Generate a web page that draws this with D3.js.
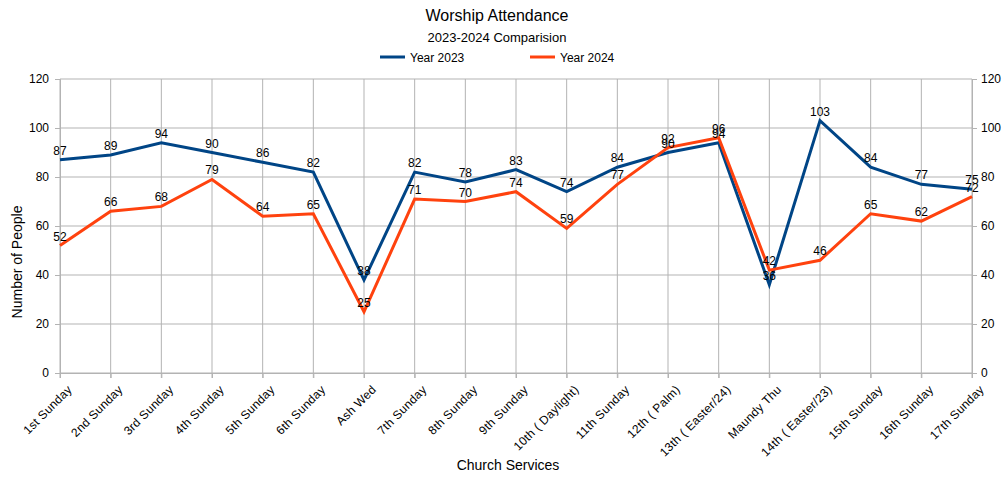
<!DOCTYPE html>
<html>
<head>
<meta charset="utf-8">
<script src="https://cdn.jsdelivr.net/npm/d3@7"></script>
<style>
	body { margin: 0; background: #fff; }
	text { font-family: "Liberation Sans", Arial, sans-serif; }
</style>
</head>
<body>
<svg id="chart"></svg>
<script>
const services = [
	"1st Sunday", "2nd Sunday", "3rd Sunday", "4th Sunday", "5th Sunday", "6th Sunday",
	"Ash Wed", "7th Sunday", "8th Sunday", "9th Sunday", "10th ( Daylight)", "11th Sunday",
	"12th ( Palm)", "13th ( Easter/24)", "Maundy  Thu", "14th ( Easter/23)", "15th Sunday",
	"16th Sunday", "17th Sunday"
];
const year2023 = [87, 89, 94, 90, 86, 82, 38, 82, 78, 83, 74, 84, 90, 94, 36, 103, 84, 77, 75];
const year2024 = [52, 66, 68, 79, 64, 65, 25, 71, 70, 74, 59, 77, 92, 96, 42, 46, 65, 62, 72];
const yTicks = [0, 20, 40, 60, 80, 100, 120];

const seriesList = [
	{ name: "Year 2023", values: year2023, color: "#004586" },
	{ name: "Year 2024", values: year2024, color: "#ff420e" },
];

const width = 1002, height = 479;
const plotLeft = 60, plotRight = 972, plotTop = 79, plotBottom = 373;

const svg = d3.select("#chart").attr("width", width).attr("height", height);

const x = d3.scalePoint().domain(services).range([plotLeft, plotRight]);
const y = d3.scaleLinear().domain([0, 120]).range([plotBottom, plotTop]);

// grid
svg.append("g")
	.selectAll("line")
	.data(yTicks)
	.join("line")
	.attr("x1", plotLeft).attr("x2", plotRight)
	.attr("y1", (d) => y(d)).attr("y2", (d) => y(d))
	.attr("stroke", "#b3b3b3").attr("stroke-width", 1);
svg.append("g")
	.selectAll("line")
	.data(services)
	.join("line")
	.attr("x1", (d) => x(d)).attr("x2", (d) => x(d))
	.attr("y1", plotTop).attr("y2", plotBottom + 5)
	.attr("stroke", "#b3b3b3").attr("stroke-width", 1);

// axes
const yLeft = svg.append("g")
	.attr("transform", `translate(${plotLeft},0)`)
	.call(d3.axisLeft(y).tickValues(yTicks).tickSize(5).tickPadding(6));
const yRight = svg.append("g")
	.attr("transform", `translate(${plotRight},0)`)
	.call(d3.axisRight(y).tickValues(yTicks).tickSize(5).tickPadding(4));
[yLeft, yRight].forEach((g) => {
	g.select(".domain").attr("stroke", "#b3b3b3");
	g.selectAll(".tick line").attr("stroke", "#b3b3b3");
	g.selectAll(".tick text").attr("font-size", "12px").attr("fill", "#000")
		.style("font-family", "Liberation Sans, Arial, sans-serif");
});

const xAxis = svg.append("g")
	.attr("transform", `translate(0,${plotBottom})`)
	.call(d3.axisBottom(x).tickSize(5).tickPadding(4));
xAxis.select(".domain").attr("stroke", "#b3b3b3");
xAxis.selectAll(".tick line").attr("stroke", "#b3b3b3");
xAxis.selectAll(".tick text")
	.attr("font-size", "12px").attr("fill", "#000")
	.style("font-family", "Liberation Sans, Arial, sans-serif")
	.style("letter-spacing", "0.3px")
	.attr("text-anchor", "end")
	.attr("dy", "0.35em")
	.attr("transform", "translate(3,8) rotate(-45)");

// lines + labels
const line = d3.line().x((d, i) => x(services[i])).y((d) => y(d));
seriesList.forEach((s) => {
	svg.append("path")
		.datum(s.values)
		.attr("d", line)
		.attr("fill", "none")
		.attr("stroke", s.color)
		.attr("stroke-width", 3)
		.attr("stroke-linejoin", "miter");
});
seriesList.forEach((s) => {
	svg.append("g")
		.selectAll("text")
		.data(s.values)
		.join("text")
		.attr("x", (d, i) => x(services[i]))
		.attr("y", (d) => y(d) - 5)
		.attr("text-anchor", "middle")
		.attr("font-size", "12px")
		.attr("fill", "#000")
		.text((d) => d);
});

// titles
svg.append("text").attr("x", 497).attr("y", 21).attr("text-anchor", "middle")
	.attr("font-size", "16px").text("Worship Attendance");
svg.append("text").attr("x", 497).attr("y", 42).attr("text-anchor", "middle")
	.attr("font-size", "13px").text("2023-2024 Comparision");
svg.append("text").attr("x", 508).attr("y", 470).attr("text-anchor", "middle")
	.attr("font-size", "14px").text("Church Services");
svg.append("text")
	.attr("transform", "translate(22,262) rotate(-90)")
	.attr("text-anchor", "middle")
	.attr("font-size", "14px").text("Number of People");

// legend
const legend = svg.append("g").selectAll("g")
	.data(seriesList)
	.join("g")
	.attr("transform", (d, i) => `translate(${380 + i * 150},57)`);
legend.append("line").attr("x1", 0).attr("x2", 25)
	.attr("stroke", (d) => d.color).attr("stroke-width", 3);
legend.append("text").attr("x", 30).attr("y", 4.5)
	.attr("font-size", "12px").text((d) => d.name);
</script>
</body>
</html>
